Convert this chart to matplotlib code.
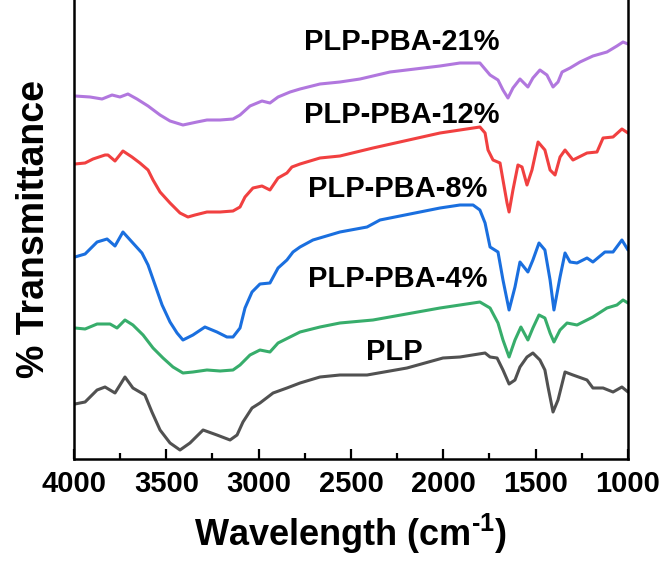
import matplotlib
matplotlib.use("Agg")
import matplotlib.pyplot as plt
from matplotlib.ticker import MultipleLocator

plt.rcParams['font.family'] = ['Liberation Sans', 'DejaVu Sans']
plt.rcParams['font.weight'] = 'bold'
plt.rcParams['mathtext.fontset'] = 'custom'
plt.rcParams['mathtext.rm'] = 'Liberation Sans:bold'
plt.rcParams['mathtext.default'] = 'rm'

# spectra (wavenumber in cm-1, transmittance in a.u., offset per sample)
wn_21 = [3995, 3913, 3848, 3794, 3751, 3708, 3659, 3599, 3534, 3480, 3410, 3334, 3280, 3209,
         3139, 3101, 3047, 2982, 2939, 2895, 2830, 2776, 2668, 2560, 2451, 2289, 2018, 1910,
         1802, 1747, 1704, 1677, 1650, 1623, 1585, 1542, 1515, 1477, 1439, 1406, 1379, 1357,
         1314, 1260, 1190, 1114, 1060, 1027, 1000]
t_21 = [364, 363, 361, 365, 363, 366, 361, 354, 345, 339, 335, 338, 340, 340,
        341, 345, 354, 359, 357, 363, 368, 371, 376, 378, 381, 388, 394, 397,
        397, 385, 380, 370, 362, 372, 381, 373, 382, 390, 385, 373, 378, 388,
        392, 398, 404, 408, 414, 418, 416]

wn_12 = [3995, 3940, 3897, 3832, 3816, 3778, 3735, 3686, 3643, 3599, 3572, 3534, 3480, 3426,
         3383, 3345, 3280, 3209, 3139, 3101, 3074, 3031, 2982, 2939, 2895, 2847, 2820, 2776,
         2668, 2560, 2381, 2018, 1910, 1802, 1774, 1758, 1731, 1693, 1677, 1655, 1644, 1623,
         1596, 1574, 1547, 1520, 1487, 1450, 1422, 1395, 1368, 1341, 1298, 1222, 1168, 1135,
         1081, 1033, 1000]
t_12 = [296, 297, 301, 305, 305, 299, 309, 303, 297, 290, 280, 268, 257, 247,
        243, 245, 248, 248, 249, 253, 263, 272, 274, 270, 282, 287, 293, 296,
        302, 304, 312, 327, 330, 333, 327, 310, 300, 297, 280, 257, 248, 270,
        295, 293, 275, 290, 318, 310, 290, 285, 303, 310, 300, 307, 308, 322,
        323, 331, 327]

wn_8 = [3995, 3940, 3875, 3821, 3778, 3735, 3686, 3632, 3599, 3561, 3523, 3480, 3442, 3410,
        3356, 3291, 3226, 3172, 3139, 3101, 3074, 3036, 2993, 2939, 2895, 2847, 2814, 2776,
        2706, 2560, 2413, 2343, 2018, 1910, 1839, 1802, 1774, 1747, 1704, 1677, 1644, 1612,
        1585, 1542, 1515, 1482, 1450, 1422, 1401, 1368, 1341, 1314, 1276, 1222, 1190, 1125,
        1081, 1033, 1000]
t_8 = [203, 206, 218, 221, 214, 228, 218, 207, 195, 175, 155, 138, 127, 120,
       125, 133, 128, 123, 123, 132, 152, 168, 176, 177, 192, 200, 208, 213,
       220, 228, 233, 240, 252, 255, 255, 250, 237, 213, 208, 180, 150, 173,
       198, 188, 200, 217, 210, 180, 150, 183, 207, 198, 197, 202, 198, 208,
       208, 220, 210]

wn_4 = [3995, 3940, 3875, 3805, 3767, 3724, 3681, 3626, 3572, 3518, 3464, 3410, 3356, 3280,
        3209, 3139, 3101, 3047, 2993, 2939, 2895, 2841, 2776, 2668, 2560, 2381, 2018, 1910,
        1802, 1747, 1704, 1677, 1644, 1612, 1580, 1542, 1515, 1482, 1450, 1422, 1401, 1368,
        1330, 1276, 1190, 1114, 1060, 1027, 1000]
t_4 = [132, 131, 136, 136, 132, 140, 135, 125, 112, 102, 93, 87, 88, 90,
       89, 90, 95, 105, 110, 108, 117, 122, 128, 133, 137, 140, 152, 155,
       158, 152, 137, 120, 103, 120, 133, 120, 132, 145, 142, 127, 118, 130,
       137, 135, 143, 152, 155, 160, 157]

wn_plp = [3995, 3940, 3875, 3832, 3778, 3724, 3681, 3616, 3578, 3534, 3480, 3426, 3372, 3301,
          3226, 3155, 3117, 3085, 3036, 2993, 2922, 2847, 2776, 2668, 2560, 2413, 2197, 2002,
          1910, 1774, 1747, 1709, 1677, 1644, 1612, 1585, 1547, 1515, 1477, 1450, 1433, 1406,
          1379, 1341, 1298, 1222, 1190, 1135, 1081, 1033, 1000]
t_plp = [56, 58, 70, 73, 67, 83, 72, 65, 48, 30, 17, 10, 17, 30,
         25, 20, 25, 38, 52, 57, 67, 72, 77, 83, 85, 85, 92, 102,
         103, 107, 103, 102, 90, 76, 80, 93, 103, 107, 100, 90, 73, 48,
         60, 88, 85, 80, 72, 72, 68, 73, 68]

names = ['PLP', 'PLP-PBA-4%', 'PLP-PBA-8%', 'PLP-PBA-12%', 'PLP-PBA-21%']
colors = ['#515151', '#37AD6B', '#1A6FDF', '#F14040', '#B177DE']
wns = [wn_plp, wn_4, wn_8, wn_12, wn_21]
ts = [t_plp, t_4, t_8, t_12, t_21]
label_x = [2267, 2245, 2245, 2224, 2224]
label_y = [100, 173, 263, 337, 410]

fig = plt.figure(figsize=(6.65, 5.63), dpi=100)
ax = fig.add_axes([74 / 665, 104 / 563, 554 / 665, 459 / 563])

for wn, t, c, name, lx, ly in zip(wns, ts, colors, names, label_x, label_y):
    ax.plot(wn, t, color=c, lw=2.2, solid_joinstyle='round', solid_capstyle='round')
    ax.text(lx, ly, name, ha='center', va='baseline', fontsize=21, fontweight='bold')

ax.set_xlim(4000, 1000)
ax.set_ylim(1, 460)
ax.xaxis.set_major_locator(MultipleLocator(500))
ax.xaxis.set_minor_locator(MultipleLocator(250))
ax.set_yticks([])
ax.spines['top'].set_visible(False)
for s in ['left', 'right', 'bottom']:
    ax.spines[s].set_linewidth(1.8)
ax.tick_params(axis='x', which='major', direction='in', length=7, width=1.6,
               labelsize=21, pad=8)
ax.tick_params(axis='x', which='minor', direction='in', length=4, width=1.6)
for lab in ax.get_xticklabels():
    lab.set_fontweight('bold')

ax.set_xlabel(r'Wavelength (cm$^{\text{-1}}$)', fontsize=26, fontweight='bold', labelpad=10)
ax.set_ylabel('% Transmittance', fontsize=27, fontweight='bold', labelpad=16)

fig.savefig('out.png', dpi=100)
